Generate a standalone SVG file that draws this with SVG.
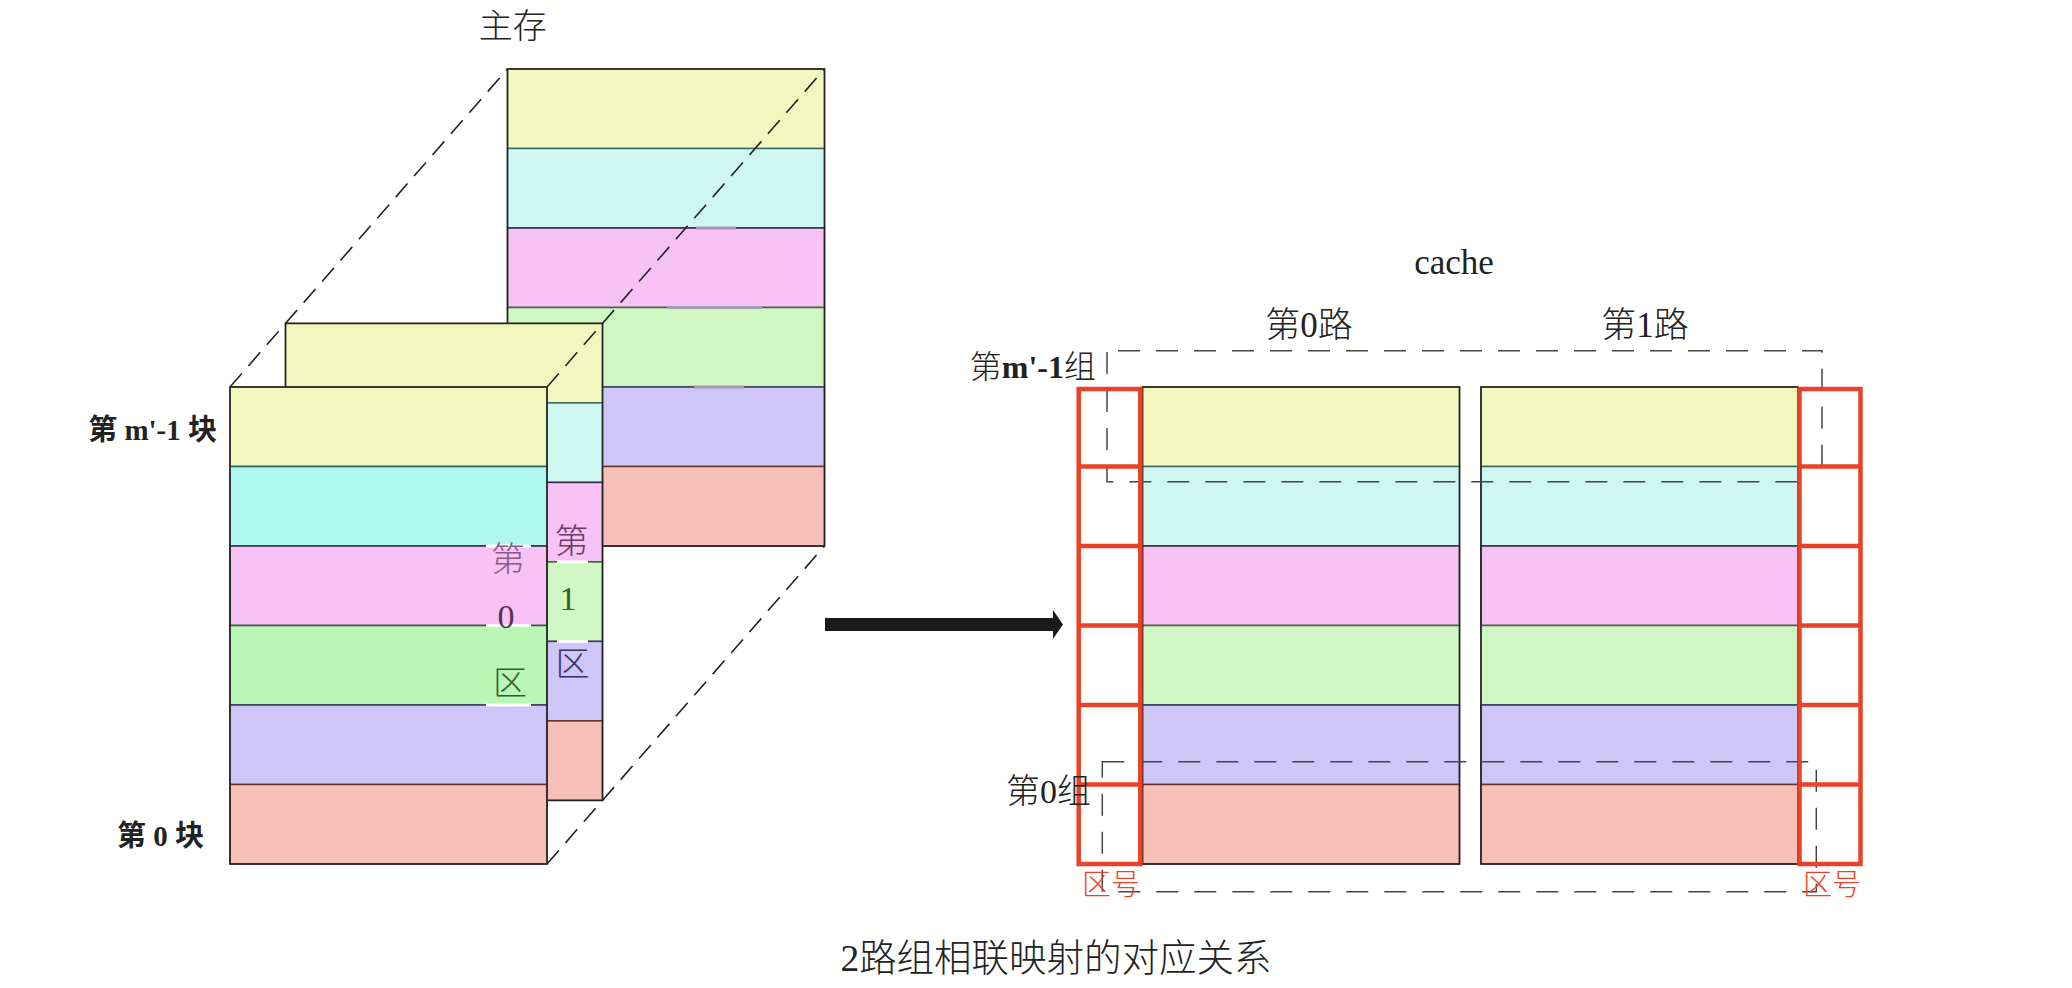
<svg xmlns="http://www.w3.org/2000/svg" width="2072" height="988" viewBox="0 0 2072 988">
<style>
  text { font-family: "Liberation Serif", "Noto Sans CJK SC", serif; fill: #222; }
  .lbl { font-weight: 300; }
  .bold { font-weight: bold; }
  .y { fill: #f2f7c0; stroke: #5f5f35; stroke-width: 1.5; }
  .c { fill: #cef7f2; stroke: #3a6a68; stroke-width: 1.5; }
  .c2 { fill: #b0f7f2; stroke: #2a5e5c; stroke-width: 1.5; }
  .p { fill: #f7c3f5; stroke: #3a2540; stroke-width: 1.5; }
  .g { fill: #d0f7c3; stroke: #3d6a35; stroke-width: 1.5; }
  .g2 { fill: #baf7b5; stroke: #2f5f2a; stroke-width: 1.5; }
  .l { fill: #cec6f7; stroke: #3a3568; stroke-width: 1.5; }
  .s { fill: #f6bfb7; stroke: #6e3028; stroke-width: 1.5; }
  .outline { fill: none; stroke: #222; stroke-width: 1.5; }
  .persp { fill: none; stroke: #222; stroke-width: 1.6; stroke-dasharray: 18 10; }
  .grp { fill: none; stroke: #444; stroke-width: 1.5; stroke-dasharray: 22 16; }
  .red { fill: none; stroke: #e84328; stroke-width: 4.5; }
  .gap { stroke: #ffffff; stroke-width: 3; }
  .art { stroke: #a49cb4; stroke-width: 3; }
</style>

<!-- Main memory: back slice -->
<g id="mem-back">
  <rect class="y" x="507.5" y="69" width="317" height="79.5"/>
  <rect class="c" x="507.5" y="148.5" width="317" height="79.5"/>
  <rect class="p" x="507.5" y="228" width="317" height="79.5"/>
  <rect class="g" x="507.5" y="307.5" width="317" height="79.5"/>
  <rect class="l" x="507.5" y="387" width="317" height="79.5"/>
  <rect class="s" x="507.5" y="466.5" width="317" height="79.5"/>
  <rect class="outline" x="507.5" y="69" width="317" height="477"/>
  <line class="art" x1="696" y1="228" x2="736" y2="228"/>
  <line class="art" x1="667" y1="307.5" x2="762" y2="307.5"/>
  <line class="art" x1="694" y1="387" x2="744" y2="387"/>
</g>

<!-- Main memory: middle slice (第1区) -->
<g id="mem-mid">
  <rect class="y" x="285.5" y="323.4" width="317" height="79.5"/>
  <rect class="c" x="285.5" y="402.9" width="317" height="79.5"/>
  <rect class="p" x="285.5" y="482.4" width="317" height="79.5"/>
  <rect class="g" x="285.5" y="561.9" width="317" height="79.5"/>
  <rect class="l" x="285.5" y="641.4" width="317" height="79.5"/>
  <rect class="s" x="285.5" y="720.9" width="317" height="79.5"/>
  <rect class="outline" x="285.5" y="323.4" width="317" height="477"/>
  <line class="gap" x1="557" y1="561.9" x2="588" y2="561.9"/>
  <line class="gap" x1="557" y1="641.4" x2="588" y2="641.4"/>
  <text class="lbl" x="571.5" y="553" text-anchor="middle" style="font-size:34px;fill:#6a3a68">第</text>
  <text x="568" y="610" text-anchor="middle" style="font-size:34px;fill:#3a5a2a">1</text>
  <text class="lbl" x="572.5" y="676" text-anchor="middle" style="font-size:34px;fill:#3a3060">区</text>
</g>

<!-- perspective dashed edges and mapping arrow -->
<g id="connectors">
  <line class="persp" x1="230" y1="387" x2="507.5" y2="69"/>
  <line class="persp" x1="547" y1="387" x2="824.5" y2="69"/>
  <line class="persp" x1="547" y1="864" x2="824.5" y2="546"/>
  <rect x="825" y="618" width="229" height="13" fill="#1a1a1a"/>
  <polygon points="1053,610 1063,624.5 1053,639" fill="#1a1a1a"/>
</g>

<!-- Main memory: front slice (第0区) -->
<g id="mem-front">
  <rect class="y" x="230" y="387" width="317" height="79.5"/>
  <rect class="c2" x="230" y="466.5" width="317" height="79.5"/>
  <rect class="p" x="230" y="546" width="317" height="79.5"/>
  <rect class="g2" x="230" y="625.5" width="317" height="79.5"/>
  <rect class="l" x="230" y="705" width="317" height="79.5"/>
  <rect class="s" x="230" y="784.5" width="317" height="79.5"/>
  <rect class="outline" x="230" y="387" width="317" height="477"/>
  <line class="gap" x1="486" y1="546" x2="531" y2="546"/>
  <line class="gap" x1="486" y1="625.5" x2="531" y2="625.5"/>
  <line class="gap" x1="486" y1="705" x2="531" y2="705"/>
  <text class="lbl" x="508" y="571" text-anchor="middle" style="font-size:34px;fill:#8a5a88">第</text>
  <text x="506" y="628" text-anchor="middle" style="font-size:34px;fill:#5a2e58">0</text>
  <text class="lbl" x="510" y="695" text-anchor="middle" style="font-size:34px;fill:#2e602e">区</text>
</g>

<g id="mem-labels">
  <text class="lbl" x="512.7" y="38" text-anchor="middle" style="font-size:34px">主存</text>
  <text class="bold" x="217" y="440" text-anchor="end" style="font-size:29px">第 m'-1 块</text>
  <text class="bold" x="204" y="846" text-anchor="end" style="font-size:29px">第 0 块</text>
</g>

<!-- Cache way 0 -->
<g id="cache-way0">
  <rect class="y" x="1142.5" y="387" width="317" height="79.5"/>
  <rect class="c" x="1142.5" y="466.5" width="317" height="79.5"/>
  <rect class="p" x="1142.5" y="546" width="317" height="79.5"/>
  <rect class="g" x="1142.5" y="625.5" width="317" height="79.5"/>
  <rect class="l" x="1142.5" y="705" width="317" height="79.5"/>
  <rect class="s" x="1142.5" y="784.5" width="317" height="79.5"/>
  <rect class="outline" x="1142.5" y="387" width="317" height="477"/>
</g>

<!-- Cache way 1 -->
<g id="cache-way1">
  <rect class="y" x="1481" y="387" width="317" height="79.5"/>
  <rect class="c" x="1481" y="466.5" width="317" height="79.5"/>
  <rect class="p" x="1481" y="546" width="317" height="79.5"/>
  <rect class="g" x="1481" y="625.5" width="317" height="79.5"/>
  <rect class="l" x="1481" y="705" width="317" height="79.5"/>
  <rect class="s" x="1481" y="784.5" width="317" height="79.5"/>
  <rect class="outline" x="1481" y="387" width="317" height="477"/>
</g>

<!-- set group outlines -->
<g id="set-groups">
  <path class="grp" d="M1107,352 V481.7 H1810"/>
  <path class="grp" d="M1118,350.7 H1822 V478"/>
  <rect class="grp" x="1102.3" y="761.7" width="714" height="130"/>
</g>

<!-- tag (区号) columns -->
<g id="tag-left">
  <rect class="red" x="1078.7" y="389" width="61.6" height="475"/>
  <line class="red" x1="1078.7" y1="466.5" x2="1140.3" y2="466.5"/>
  <line class="red" x1="1078.7" y1="546" x2="1140.3" y2="546"/>
  <line class="red" x1="1078.7" y1="625.5" x2="1140.3" y2="625.5"/>
  <line class="red" x1="1078.7" y1="705" x2="1140.3" y2="705"/>
  <line class="red" x1="1078.7" y1="784.5" x2="1140.3" y2="784.5"/>
  <text class="lbl" x="1111" y="895" text-anchor="middle" style="font-size:29px;fill:#e8432a">区号</text>
</g>
<g id="tag-right">
  <rect class="red" x="1799.5" y="389" width="61" height="475"/>
  <line class="red" x1="1799.5" y1="466.5" x2="1860.5" y2="466.5"/>
  <line class="red" x1="1799.5" y1="546" x2="1860.5" y2="546"/>
  <line class="red" x1="1799.5" y1="625.5" x2="1860.5" y2="625.5"/>
  <line class="red" x1="1799.5" y1="705" x2="1860.5" y2="705"/>
  <line class="red" x1="1799.5" y1="784.5" x2="1860.5" y2="784.5"/>
  <text class="lbl" x="1832" y="895" text-anchor="middle" style="font-size:29px;fill:#e8432a">区号</text>
</g>

<g id="cache-labels">
  <text class="lbl" x="1454" y="274" text-anchor="middle" style="font-size:35px">cache</text>
  <text class="lbl" x="1309" y="337" text-anchor="middle" style="font-size:35px">第0路</text>
  <text class="lbl" x="1645" y="337" text-anchor="middle" style="font-size:35px">第1路</text>
  <text class="lbl" x="1096" y="378" text-anchor="end" style="font-size:32px">第<tspan style="font-weight:bold">m'-1</tspan>组</text>
  <text class="lbl" x="1091" y="803" text-anchor="end" style="font-size:34px">第0组</text>
</g>

<g id="title">
  <text class="lbl" x="1056" y="971" text-anchor="middle" style="font-size:37.5px">2路组相联映射的对应关系</text>
</g>
</svg>
